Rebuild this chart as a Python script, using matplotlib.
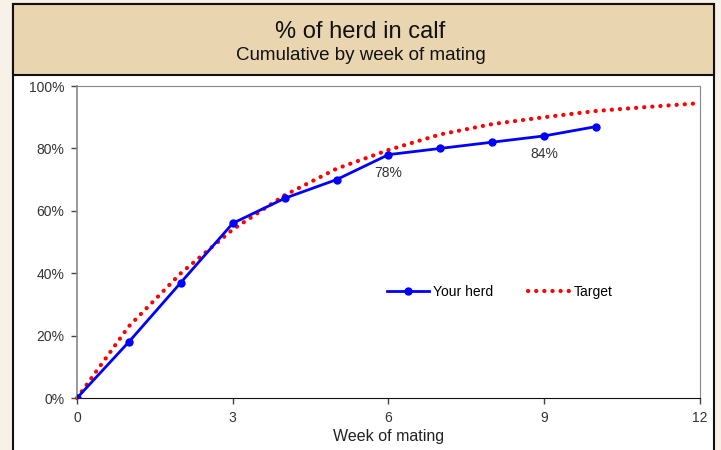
import matplotlib.pyplot as plt
from matplotlib.patches import Rectangle
from matplotlib.ticker import FuncFormatter

weeks = [0, 1, 2, 3, 4, 5, 6, 7, 8, 9, 10]
your_herd = [0, 18, 37, 56, 64, 70, 78, 80, 82, 84, 87]

target_weeks = [0, 1, 2, 3, 4, 5, 6, 7, 8, 9, 10, 11, 12]
target = [0, 23, 40, 54, 65, 73.5, 79.5, 84.5, 87.8, 90, 92, 93.3, 94.5]

labelled_weeks = [6, 9]

plt.rcParams['font.family'] = ['Liberation Sans', 'DejaVu Sans']

fig = plt.figure(figsize=(7.21, 4.5), dpi=100)
fig.patch.set_facecolor('#f8f1e7')

W, H = 721, 450
# white panel with black sides, tan header box on top
fig.patches.append(Rectangle((13 / W, -0.05), (714 - 13) / W, (H - 4) / H + 0.05,
                             transform=fig.transFigure, facecolor='white',
                             edgecolor='#111111', linewidth=1.5, zorder=-2))
fig.patches.append(Rectangle((13 / W, 1 - 75 / H), (714 - 13) / W, (75 - 4) / H,
                             transform=fig.transFigure, facecolor='#e9d5b0',
                             edgecolor='#111111', linewidth=1.5, zorder=-1))

fig.text(0.5, 1 - 32 / H, '% of herd in calf', ha='center', va='center',
         fontsize=17, color='#111111')
fig.text(0.5, 1 - 55 / H, 'Cumulative by week of mating', ha='center', va='center',
         fontsize=13.5, color='#111111')

ax = fig.add_axes([77 / W, 1 - 398 / H, (700 - 77) / W, (398 - 86) / H])
ax.set_zorder(2)
ax.set_facecolor('white')

ax.plot(weeks, your_herd, color='#0000ff', linewidth=2, marker='o',
        markersize=5, label='Your herd', zorder=3)
# round-capped near-zero dashes give the round dotted look
ax.plot(target_weeks, target, color='#ff0000', linewidth=3, linestyle=(0, (0.05, 1.9)),
        dash_capstyle='round', label='Target', zorder=2, clip_on=False)

for w in labelled_weeks:
    v = your_herd[weeks.index(w)]
    ax.annotate(f'{v}%', (w, v), xytext=(0, -8), textcoords='offset points',
                ha='center', va='top', fontsize=10, color='#333333')

ax.set_xlim(0, 12)
ax.set_ylim(0, 100)
ax.set_xticks([0, 3, 6, 9, 12])
ax.set_yticks([0, 20, 40, 60, 80, 100])
ax.yaxis.set_major_formatter(FuncFormatter(lambda v, p: f'{v:.0f}%'))
ax.tick_params(axis='both', direction='out', length=4, width=1, pad=5,
               labelsize=10, labelcolor='#333333', color='#444444')
ax.set_xlabel('Week of mating', fontsize=11.5, color='#222222', labelpad=3)

for side in ['top', 'right', 'left']:
    ax.spines[side].set_color('#888888')
ax.spines['bottom'].set_color('#111111')
ax.spines['left'].set_linewidth(1.2)

ax.legend(loc='center', bbox_to_anchor=(500 / W, 1 - 292 / H),
          bbox_transform=fig.transFigure, ncol=2, frameon=False,
          fontsize=10, handlelength=3, columnspacing=2.5, handletextpad=0.3)

fig.savefig('out.png', dpi=100, facecolor=fig.get_facecolor())
